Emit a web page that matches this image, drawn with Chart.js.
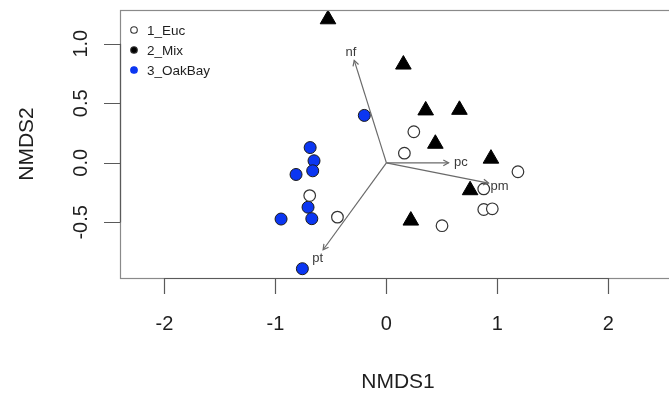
<!DOCTYPE html>
<html>
<head>
<meta charset="utf-8">
<script src="https://cdn.jsdelivr.net/npm/chart.js@4.4.0/dist/chart.umd.min.js"></script>
<style>
  html, body { margin: 0; padding: 0; background: #fff; overflow: hidden; }
  #wrap { width: 700px; height: 395px; }
</style>
</head>
<body>
<div id="wrap"><canvas id="myChart" width="700" height="395"></canvas></div>
<script>
// site scores
var eucX = [0.247, 0.162, 1.185, 0.877, 0.877, 0.954, 0.501, -0.441, -0.691];
var eucY = [0.261, 0.081, -0.075, -0.219, -0.392, -0.386, -0.528, -0.456, -0.275];

var mixX = [-0.526, 0.153, 0.354, 0.658, 0.441, 0.942, 0.754, 0.220];
var mixY = [1.205, 0.825, 0.440, 0.445, 0.160, 0.035, -0.230, -0.485];

var oakX = [-0.199, -0.687, -0.652, -0.664, -0.814, -0.706, -0.672, -0.949, -0.757];
var oakY = [0.398, 0.128, 0.017, -0.067, -0.098, -0.373, -0.469, -0.472, -0.889];

// envfit vectors
var vecNames = ['nf', 'pc', 'pm', 'pt'];
var vecX = [-0.29, 0.56, 0.92, -0.57];
var vecY = [0.86, 0.00, -0.17, -0.73];
var vecLabelX = [-0.32, 0.67, 1.02, -0.62];
var vecLabelY = [0.93, 0.00, -0.20, -0.80];

var groupNames = ['1_Euc', '2_Mix', '3_OakBay'];
var xTicks = [-2, -1, 0, 1, 2];
var yTicks = [-0.5, 0, 0.5, 1];
var yTickLabels = ['-0.5', '0.0', '0.5', '1.0'];

function toPoints(xs, ys) {
    return xs.map(function (x, i) { return { x: x, y: ys[i] }; });
}

var FONT = '"Liberation Sans", Arial, sans-serif';
var BLUE = '#0b36f2';

var datasets = [];
// arrows first so the points sit on top
vecNames.forEach(function (name, i) {
    datasets.push({
        label: name,
        data: [{ x: 0, y: 0 }, { x: vecX[i], y: vecY[i] }],
        showLine: true,
        borderColor: '#6a6a6a',
        borderWidth: 1.2,
        pointRadius: 0,
        clip: false
    });
});
datasets.push({
    label: groupNames[0],
    data: toPoints(eucX, eucY),
    pointStyle: 'circle',
    pointRadius: 5.8,
    backgroundColor: '#ffffff',
    borderColor: '#333333',
    pointBorderWidth: 1.2,
    clip: false
});
datasets.push({
    label: groupNames[1],
    data: toPoints(mixX, mixY),
    pointStyle: 'triangle',
    pointRadius: 9,
    backgroundColor: '#000000',
    borderColor: '#000000',
    pointBorderWidth: 1,
    clip: false
});
datasets.push({
    label: groupNames[2],
    data: toPoints(oakX, oakY),
    pointStyle: 'circle',
    pointRadius: 6,
    backgroundColor: BLUE,
    borderColor: '#1a1a1a',
    pointBorderWidth: 1,
    clip: false
});

// base R style box, axes, legend and vector labels
var rStyle = {
    id: 'rStyle',
    afterDatasetsDraw: function (chart) {
        var ctx = chart.ctx;
        var a = chart.chartArea;
        var sx = chart.scales.x, sy = chart.scales.y;
        ctx.save();

        // box
        ctx.strokeStyle = '#8a8a8a';
        ctx.lineWidth = 1.2;
        ctx.strokeRect(a.left + 0.5, a.top + 0.5, a.right - a.left, a.bottom - a.top);

        // x axis
        ctx.strokeStyle = '#5a5a5a';
        ctx.lineWidth = 1.2;
        ctx.beginPath();
        ctx.moveTo(sx.getPixelForValue(xTicks[0]), a.bottom + 0.5);
        ctx.lineTo(sx.getPixelForValue(xTicks[xTicks.length - 1]), a.bottom + 0.5);
        xTicks.forEach(function (t) {
            var px = Math.round(sx.getPixelForValue(t)) + 0.5;
            ctx.moveTo(px, a.bottom);
            ctx.lineTo(px, a.bottom + 16);
        });
        ctx.stroke();
        ctx.fillStyle = '#1e1e1e';
        ctx.font = '20px ' + FONT;
        ctx.textAlign = 'center';
        ctx.textBaseline = 'middle';
        xTicks.forEach(function (t) {
            ctx.fillText(String(t), sx.getPixelForValue(t), a.bottom + 46);
        });

        // y axis
        ctx.beginPath();
        ctx.moveTo(a.left + 0.5, sy.getPixelForValue(yTicks[0]));
        ctx.lineTo(a.left + 0.5, sy.getPixelForValue(yTicks[yTicks.length - 1]));
        yTicks.forEach(function (t) {
            var py = Math.round(sy.getPixelForValue(t)) + 0.5;
            ctx.moveTo(a.left, py);
            ctx.lineTo(a.left - 16, py);
        });
        ctx.stroke();
        yTicks.forEach(function (t, i) {
            ctx.save();
            ctx.translate(81, sy.getPixelForValue(t));
            ctx.rotate(-Math.PI / 2);
            ctx.fillText(yTickLabels[i], 0, 0);
            ctx.restore();
        });

        // axis titles
        ctx.font = '21px ' + FONT;
        ctx.fillText('NMDS1', (a.left + a.right) / 2, 382);
        ctx.save();
        ctx.translate(27, (a.top + a.bottom) / 2);
        ctx.rotate(-Math.PI / 2);
        ctx.fillText('NMDS2', 0, 0);
        ctx.restore();

        // arrow heads and labels
        ctx.strokeStyle = '#6a6a6a';
        ctx.lineWidth = 1.2;
        var ox = sx.getPixelForValue(0), oy = sy.getPixelForValue(0);
        vecNames.forEach(function (name, i) {
            var tx = sx.getPixelForValue(vecX[i]), ty = sy.getPixelForValue(vecY[i]);
            var ang = Math.atan2(ty - oy, tx - ox);
            ctx.beginPath();
            ctx.moveTo(tx - 6 * Math.cos(ang - 0.5), ty - 6 * Math.sin(ang - 0.5));
            ctx.lineTo(tx, ty);
            ctx.lineTo(tx - 6 * Math.cos(ang + 0.5), ty - 6 * Math.sin(ang + 0.5));
            ctx.stroke();
        });
        ctx.fillStyle = '#3a3a3a';
        ctx.font = '13px ' + FONT;
        vecNames.forEach(function (name, i) {
            ctx.fillText(name, sx.getPixelForValue(vecLabelX[i]), sy.getPixelForValue(vecLabelY[i]));
        });

        // legend
        var fills = ['#ffffff', '#000000', BLUE];
        ctx.font = '13.5px ' + FONT;
        ctx.textAlign = 'left';
        groupNames.forEach(function (g, i) {
            var y = 30 + i * 20;
            ctx.beginPath();
            ctx.arc(134, y, 3.3, 0, Math.PI * 2);
            ctx.fillStyle = fills[i];
            ctx.fill();
            ctx.strokeStyle = i === 2 ? BLUE : '#333333';
            ctx.lineWidth = 1.1;
            ctx.stroke();
            ctx.fillStyle = '#1e1e1e';
            ctx.fillText(g, 147, y + 1);
        });

        ctx.restore();
    }
};

var ctx = document.getElementById('myChart').getContext('2d');
var chart = new Chart(ctx, {
    type: 'scatter',
    data: { datasets: datasets },
    options: {
        responsive: false,
        animation: false,
        devicePixelRatio: 1,
        layout: { padding: { left: 120, top: 8, right: 24, bottom: 117 } },
        scales: {
            x: { type: 'linear', min: -2.4, max: 2.609, display: false },
            y: { type: 'linear', min: -0.967, max: 1.283, display: false }
        },
        plugins: {
            legend: { display: false },
            tooltip: { enabled: false }
        }
    },
    plugins: [rStyle]
});
</script>
</body>
</html>
